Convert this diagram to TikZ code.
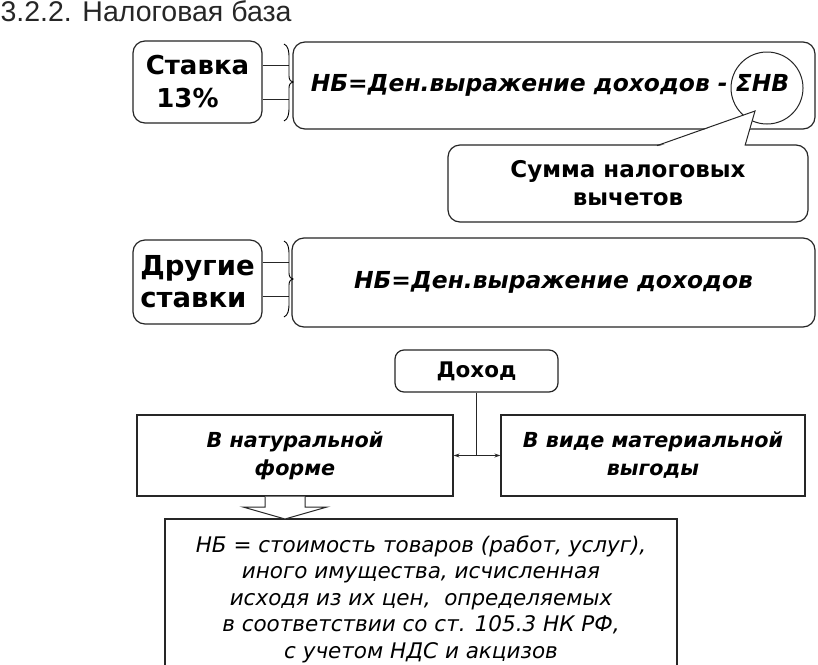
\documentclass[tikz,border=0pt]{standalone}
\usepackage{fontspec}
\setmainfont{DejaVu Sans}
\newfontfamily\titlefont{Liberation Sans}
\usetikzlibrary{arrows.meta}
\newcommand\bracepath[3]{%
  \draw[line width=0.9pt] (284,#1) .. controls (288,#1+2) and (289,#1+6) .. (289,#1+14) -- (289,#2-6) .. controls (289,#2-2) and (291,#2) .. (293,#2) .. controls (291,#2) and (289,#2+2) .. (289,#2+6) -- (289,#3-14) .. controls (289,#3-6) and (288,#3-2) .. (284,#3);}
\begin{document}
\begin{tikzpicture}[x=1pt,y=-1pt,line width=1.2pt,
  rbox/.style={draw=black!85, rounded corners=12pt, fill=white, inner sep=0pt, align=center},
  sbox/.style={draw=black!85, fill=white, inner sep=0pt, align=center},
  bigbold/.style={font=\fontsize{26}{33}\selectfont\bfseries},
  bi/.style={font=\fontsize{23.4}{28}\selectfont\bfseries\itshape},
  mid/.style={font=\fontsize{20.7}{28}\selectfont\bfseries\itshape},
  cb/.style={font=\fontsize{23}{28}\selectfont\bfseries},
  link/.style={draw=black!85, line width=1pt}]
\clip (0,0) rectangle (818,664);
\fill[white] (0,0) rectangle (818,664);

\node[anchor=north west, inner sep=0pt, text=black!85, font=\titlefont\fontsize{28.5}{32}\selectfont] (title) at (0,0) {3.2.2. Налоговая база};

% row 1
\node[rbox, minimum width=129, minimum height=82, bigbold] (stavka) at (197.5,82) {Ставка\\13\%\hspace*{20pt}};
\node[rbox, minimum width=522, minimum height=87, bi] (big1) at (554,85.5) {\hspace*{-8pt}НБ=Ден.выражение доходов - ΣНВ};
\node[circle, draw=black!85, line width=1pt, minimum size=72, inner sep=0pt] (sig) at (767,88) {};
\coordinate (y1a) at (0,65);
\coordinate (y1b) at (0,99);
\draw[link] (stavka.east |- y1a) -- (289,65);
\draw[link] (stavka.east |- y1b) -- (289,99);
\bracepath{44}{82}{121}

% callout
\node[rbox, minimum width=360, minimum height=77, cb] (call) at (628,183.5) {Сумма налоговых\\вычетов};
\coordinate (pl) at (657,145.6);
\coordinate (pr) at (745,145.6);
\coordinate (tip) at (755,111);
\fill[white] (657,147) -- (tip) -- (745,147) -- cycle;
\draw[link] (pl) -- (tip) -- (pr);

% row 2
\node[rbox, minimum width=129, minimum height=84, font=\fontsize{27.5}{32}\selectfont\bfseries, align=left] (drugie) at (197.5,282) {Другие\\ставки};
\node[rbox, minimum width=523, minimum height=89, bi] (big2) at (553.5,282.5) {НБ=Ден.выражение доходов};
\coordinate (y2a) at (0,262);
\coordinate (y2b) at (0,296);
\draw[link] (drugie.east |- y2a) -- (289,262);
\draw[link] (drugie.east |- y2b) -- (289,296);
\bracepath{241}{279}{317}

% income
\node[rbox, rounded corners=9pt, minimum width=163, minimum height=42, font=\fontsize{21.5}{26}\selectfont\bfseries] (dohod) at (476.5,371) {Доход};
\node[sbox, minimum width=316, minimum height=81, mid] (nat) at (295,455.5) {В натуральной\\форме};
\node[sbox, minimum width=304, minimum height=81, mid] (mat) at (653,455.5) {В виде материальной\\выгоды};
\draw[link] (dohod.south) -- (dohod.south |- nat.east);
\draw[link, {Stealth[length=6pt,width=4pt]}-{Stealth[length=6pt,width=4pt]}] (nat.east) -- (mat.west);

% bottom box
\node[sbox, minimum width=512, minimum height=170] (res) at (421,604) {};
\node[anchor=north, inner sep=0pt, align=center, font=\fontsize{21.5}{26.5}\selectfont\itshape] (restext) at (421,535)
  {НБ = стоимость товаров (работ, услуг),\\иного имущества, исчисленная\\исходя из их цен,\ \ определяемых\\в соответствии со ст. 105.3 НК РФ,\\с учетом НДС и акцизов};
% hollow arrow
\draw[draw=black!85, line width=1pt, fill=white] (265,496.6) -- (265,507) -- (243,507) -- (285,519) -- (327,507) -- (305,507) -- (305,496.6);
\end{tikzpicture}
\end{document}
